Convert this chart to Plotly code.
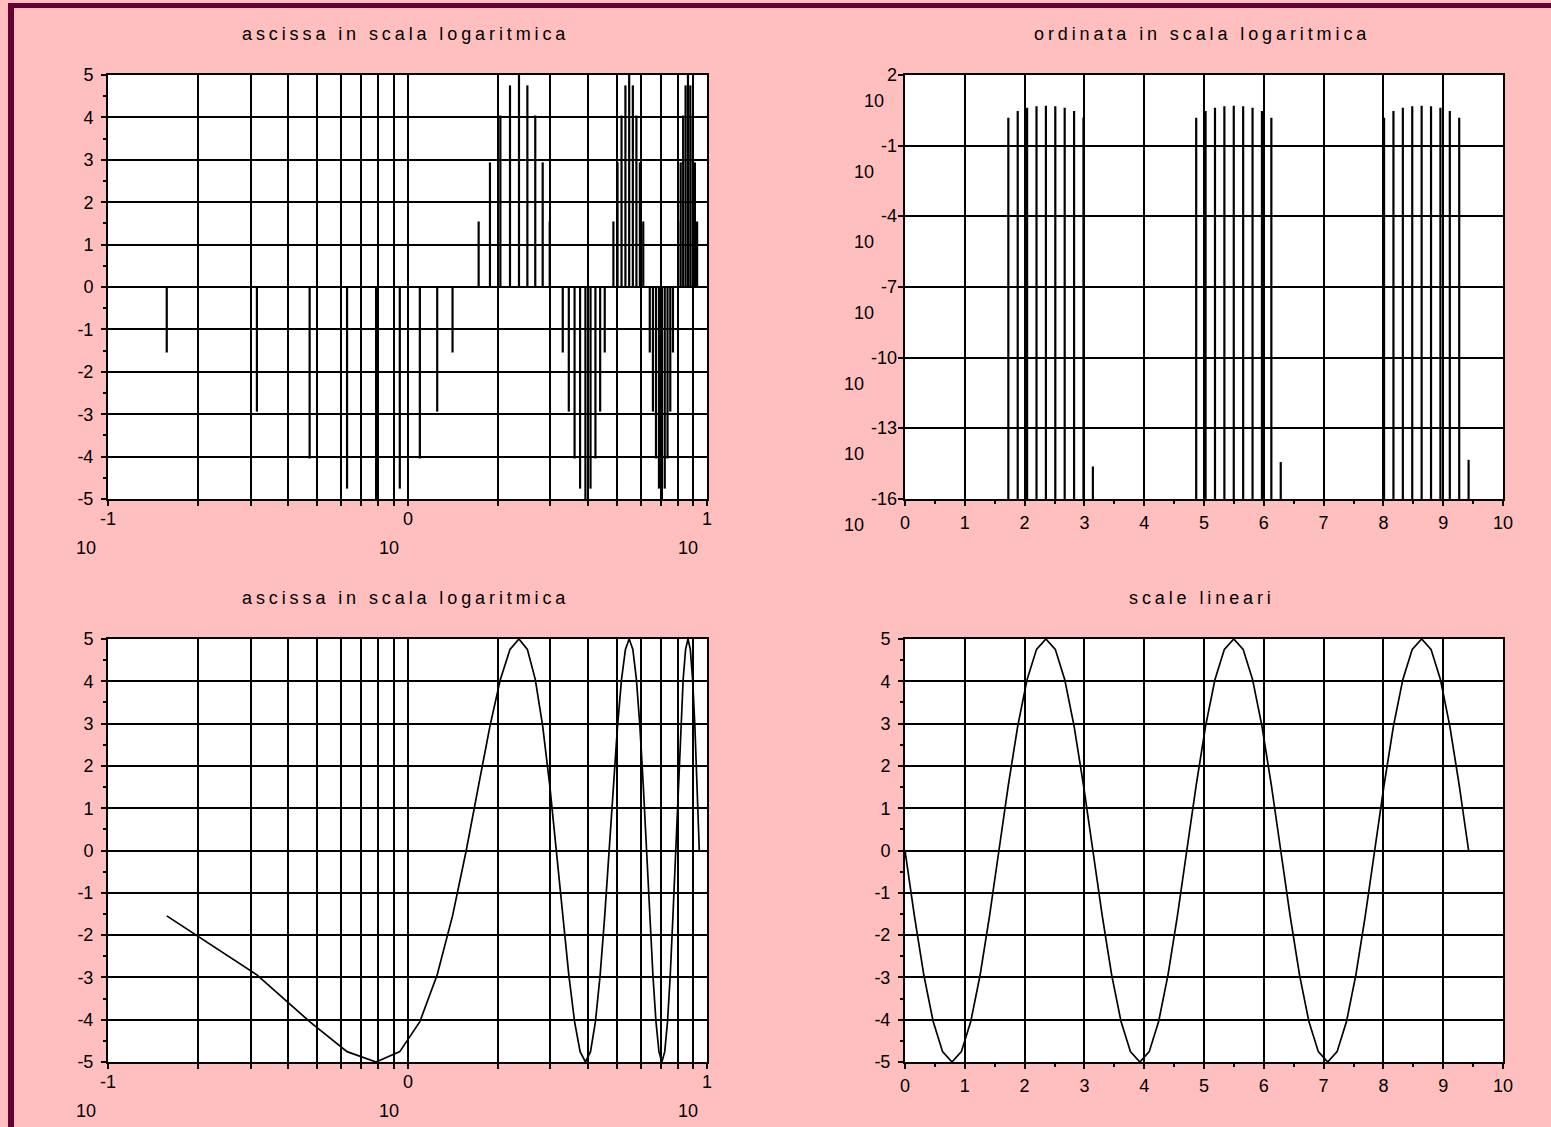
import plotly.graph_objects as go

W, H = 1551, 1127

# ---------------- data ----------------
x_vals = [0.0000, 0.1571, 0.3142, 0.4712, 0.6283, 0.7854, 0.9425, 1.0996, 1.2566, 1.4137,
          1.5708, 1.7279, 1.8850, 2.0420, 2.1991, 2.3562, 2.5133, 2.6704, 2.8274, 2.9845,
          3.1416, 3.2987, 3.4558, 3.6128, 3.7699, 3.9270, 4.0841, 4.2412, 4.3982, 4.5553,
          4.7124, 4.8695, 5.0265, 5.1836, 5.3407, 5.4978, 5.6549, 5.8119, 5.9690, 6.1261,
          6.2832, 6.4403, 6.5973, 6.7544, 6.9115, 7.0686, 7.2257, 7.3827, 7.5398, 7.6969,
          7.8540, 8.0111, 8.1681, 8.3252, 8.4823, 8.6394, 8.7965, 8.9535, 9.1106, 9.2677,
          9.4248]
y_vals = [0.0, -1.545, -2.939, -4.045, -4.755, -5.0, -4.755, -4.045, -2.939, -1.545,
          -6.1e-16, 1.545, 2.939, 4.045, 4.755, 5.0, 4.755, 4.045, 2.939, 1.545,
          2.4e-15, -1.545, -2.939, -4.045, -4.755, -5.0, -4.755, -4.045, -2.939, -1.545,
          -1.8e-15, 1.545, 2.939, 4.045, 4.755, 5.0, 4.755, 4.045, 2.939, 1.545,
          3.7e-15, -1.545, -2.939, -4.045, -4.755, -5.0, -4.755, -4.045, -2.939, -1.545,
          -3.1e-15, 1.545, 2.939, 4.045, 4.755, 5.0, 4.755, 4.045, 2.939, 1.545,
          4.6e-15]

titles = ["ascissa in scala logaritmica", "ordinata in scala logaritmica",
          "ascissa in scala logaritmica", "scale lineari"]
lin_y_ticks = [-5, -4, -3, -2, -1, 0, 1, 2, 3, 4, 5]
lin_x_ticks = [0, 1, 2, 3, 4, 5, 6, 7, 8, 9, 10]
log_x_exps = [-1, 0, 1]
log_y_exps = [2, -1, -4, -7, -10, -13, -16]

# ---------------- styling ----------------
PINK = "#FFBFBF"
MAROON = "#660033"
TICKFONT = dict(family="Liberation Sans, Arial, sans-serif", size=18, color="black")
TITLEFONT = "Liberation Sans, Arial, sans-serif"

# plot boxes in pixels (left, right, top, bottom)
boxes = [(108, 707, 75, 499), (905, 1503, 75, 499),
         (108, 707, 639, 1062), (905, 1503, 639, 1062)]


def px_x(p):
    return p / W


def px_y(p):
    return 1 - p / H


log_grid = [m * 10.0 ** e for e in (-1, 0) for m in range(1, 10)] + [10.0]

fig = go.Figure()

# top-left: stems, log x
sx, sy = [], []
for x, y in zip(x_vals, y_vals):
    if x > 0:
        sx += [x, x, None]
        sy += [0, y, None]
fig.add_trace(go.Scatter(x=sx, y=sy, mode="lines", line=dict(color="black", width=2.2),
                         xaxis="x", yaxis="y", hoverinfo="skip"))

# top-right: stems, log y
sx, sy = [], []
for x, y in zip(x_vals, y_vals):
    if y > 0:
        sx += [x, x, None]
        sy += [1e-16, y, None]
fig.add_trace(go.Scatter(x=sx, y=sy, mode="lines", line=dict(color="black", width=2.2),
                         xaxis="x2", yaxis="y2", hoverinfo="skip"))

# bottom-left: curve, log x
bx = [x for x in x_vals if x > 0]
by = [y for x, y in zip(x_vals, y_vals) if x > 0]
fig.add_trace(go.Scatter(x=bx, y=by, mode="lines", line=dict(color="black", width=1.7),
                         xaxis="x3", yaxis="y3", hoverinfo="skip"))

# bottom-right: curve, linear
fig.add_trace(go.Scatter(x=x_vals, y=y_vals, mode="lines", line=dict(color="black", width=1.7),
                         xaxis="x4", yaxis="y4", hoverinfo="skip"))

common = dict(showgrid=True, gridcolor="black", gridwidth=1.9, zeroline=False,
              showline=True, linecolor="black", linewidth=2, mirror=True,
              ticks="outside", ticklen=5, tickwidth=1.5, tickcolor="black",
              tickfont=TICKFONT, automargin=False)

lay = {}
for i, (l, r, t, b) in enumerate(boxes):
    n = "" if i == 0 else str(i + 1)
    xa = dict(common, domain=[px_x(l), px_x(r)], anchor="y" + n)
    ya = dict(common, domain=[px_y(b), px_y(t)], anchor="x" + n)
    if i in (0, 2):
        xa.update(type="log", range=[-1, 1], tickvals=log_grid, showticklabels=False)
    else:
        xa.update(range=[0, 10], tickvals=lin_x_ticks,
                  ticktext=[str(v) for v in lin_x_ticks], ticklabelstandoff=1,
                  minor=dict(ticks="outside", ticklen=3, tickcolor="black", dtick=0.5,
                             showgrid=False))
    if i == 1:
        ya.update(type="log", range=[-16, 2], tickvals=[10.0 ** e for e in log_y_exps],
                  showticklabels=False)
    else:
        ya.update(range=[-5, 5], tickvals=lin_y_ticks,
                  ticktext=[str(v) for v in lin_y_ticks], ticklabelstandoff=4,
                  minor=dict(ticks="outside", ticklen=3, tickcolor="black", dtick=0.5,
                             showgrid=False))
    lay["xaxis" + n] = xa
    lay["yaxis" + n] = ya

annotations = []
# titles
for (l, r, t, b), title in zip(boxes, titles):
    annotations.append(dict(text='<span style="letter-spacing:3.9px">' + title + '</span>',
                            xref="paper", yref="paper",
                            x=px_x((l + r) / 2 - 2), y=px_y(t - 41), xanchor="center",
                            yanchor="middle", showarrow=False,
                            font=dict(family=TITLEFONT, size=18, color="black")))

# log x tick labels (exponent above, "10" below-left)
for ax, (l, r, t, b) in (("x", boxes[0]), ("x3", boxes[2])):
    for e in log_x_exps:
        s = str(e)
        w = 10 * len(s.lstrip("-")) + (6 if e < 0 else 0)
        annotations.append(dict(text=s, xref=ax, yref="paper", x=e, y=px_y(b + 20),
                                xanchor="center", yanchor="middle", showarrow=False,
                                font=TICKFONT))
        annotations.append(dict(text="10", xref=ax, yref="paper", x=e, y=px_y(b + 49),
                                xanchor="right", yanchor="middle", xshift=-(w / 2 + 2),
                                showarrow=False, font=TICKFONT))

# log y tick labels (exponent at tick, "10" below-left)
for e in log_y_exps:
    s = str(e)
    w = 10 * len(s.lstrip("-")) + (10 if e < 0 else 0)
    annotations.append(dict(text=s, xref="paper", yref="y2", x=px_x(899), y=e,
                            xanchor="right", yanchor="middle", showarrow=False,
                            font=TICKFONT))
    annotations.append(dict(text="10", xref="paper", yref="y2", x=px_x(899 - w - 3), y=e,
                            yshift=-26, xanchor="right", yanchor="middle",
                            showarrow=False, font=TICKFONT))

shapes = [
    dict(type="rect", xref="paper", yref="paper", x0=px_x(8), x1=px_x(14), y0=0,
         y1=px_y(3), fillcolor=MAROON, line=dict(width=0)),
    dict(type="rect", xref="paper", yref="paper", x0=px_x(8), x1=1, y0=px_y(8),
         y1=px_y(3), fillcolor=MAROON, line=dict(width=0)),
]

fig.update_layout(width=W, height=H,
                  margin=dict(l=0, r=0, t=0, b=0, pad=0, autoexpand=False),
                  paper_bgcolor=PINK, plot_bgcolor="white", showlegend=False,
                  annotations=annotations, shapes=shapes, **lay)

post = ("var s=document.createElement('style');"
        "s.innerHTML='html,body{margin:0;padding:0;overflow:hidden;}';"
        "document.head.appendChild(s);")
fig.write_html("out.html", post_script=post, config={"displayModeBar": False})
